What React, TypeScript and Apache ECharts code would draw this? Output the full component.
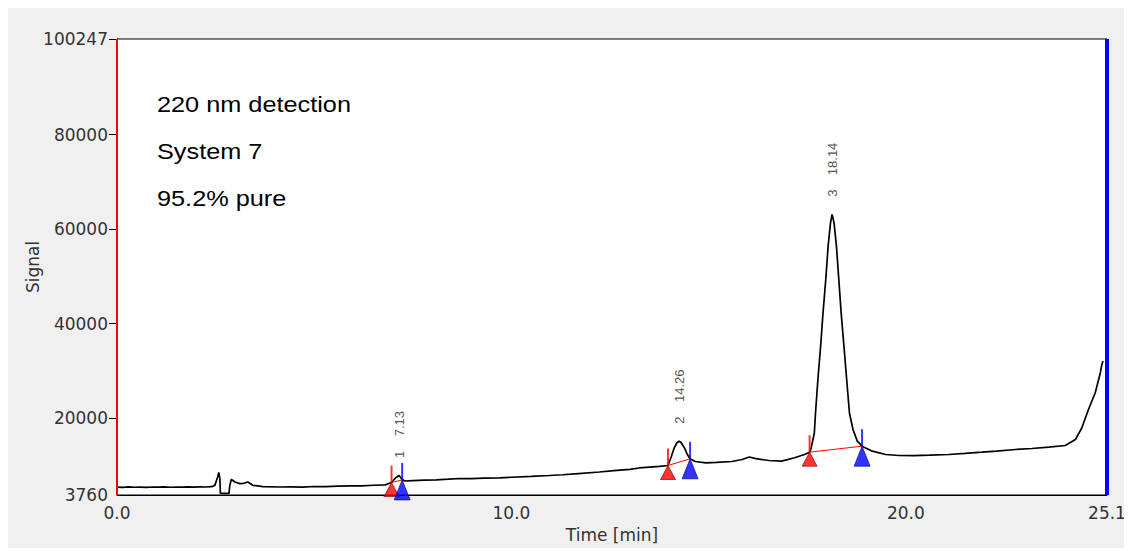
import React, { useEffect, useRef } from "react";
import * as echarts from "echarts";

// Chromatogram trace: retention time (min) and detector signal
const times = [
  0.0, 0.15, 0.3, 0.45, 0.6, 0.75, 0.9, 1.05, 1.2, 1.35, 1.5, 1.65, 1.8, 1.95, 2.1, 2.25, 2.4,
  2.48, 2.55, 2.58, 2.61, 2.62, 2.84, 2.86, 2.9, 2.99, 3.11, 3.21, 3.32, 3.44, 3.7, 4.13,
  4.4, 4.7, 5.0, 5.3, 5.6, 5.9, 6.2, 6.5, 6.8, 6.96, 7.06, 7.15, 7.22, 7.29, 7.5, 7.8,
  8.1, 8.4, 8.7, 9.0, 9.3, 9.7, 10.0, 10.5, 10.96, 11.3, 11.7, 12.23, 12.6, 13.0, 13.24,
  13.5, 13.75, 13.97, 14.05, 14.13, 14.2, 14.25, 14.3, 14.38, 14.46, 14.53, 14.66, 14.93,
  15.2, 15.59, 15.85, 16.03, 16.2, 16.53, 16.85, 17.18, 17.43, 17.56, 17.59, 17.68, 17.71,
  17.77, 17.84, 17.9, 17.97, 18.03, 18.09, 18.13, 18.18, 18.24, 18.3, 18.36, 18.43, 18.5,
  18.57, 18.66, 18.77, 18.89, 19.15, 19.49, 19.82, 20.2, 20.6, 21.09, 21.5, 21.93, 22.3,
  22.78, 23.2, 23.62, 24.04, 24.3, 24.46, 24.63, 24.8, 24.93, 24.97, 25.0,
];
const signal = [
  5420, 5380, 5460, 5400, 5440, 5390, 5450, 5410, 5470, 5400, 5450, 5420, 5480, 5430, 5490, 5450, 5520,
  5800, 7500, 8550, 7100, 4120, 4120, 5800, 7080, 6510, 6170, 6240, 6510, 5810, 5540, 5450,
  5480, 5440, 5560, 5520, 5640, 5700, 5690, 5820, 5900, 6400, 7360, 7900, 7150, 6720, 6800, 6900,
  6960, 7100, 7250, 7220, 7350, 7400, 7520, 7700, 7890, 8050, 8300, 8630, 8900, 9200, 9480,
  9650, 9800, 10000, 11800, 13800, 14870, 15150, 14870, 13820, 12330, 11420, 10850, 10540,
  10650, 10850, 11280, 11800, 11450, 11060, 10920, 11640, 12330, 12820, 13390, 16890, 21120,
  28210, 35300, 42290, 49380, 56470, 61340, 63140, 61340, 56470, 49380, 42290, 35300, 28210,
  21120, 17630, 15150, 14090, 13030, 12330, 12120, 12100, 12200, 12330, 12560, 12820, 13050,
  13390, 13600, 13880, 14240, 15510, 17940, 21860, 25350, 29590, 31390, 32100,
];

// Integration marks: peak start (red), peak end (blue), apex (label)
const peakStarts = [
  [6.96, 6400],
  [13.97, 10000],
  [17.56, 12820],
];
const peakEnds = [
  [7.23, 6950],
  [14.53, 11420],
  [18.89, 14090],
];
const peakApex = [
  [7.15, 7900],
  [14.25, 15150],
  [18.13, 63140],
];
const peakNumbers = ["1", "2", "3"];
const peakTimes = ["7.13", "14.26", "18.14"];

const yLabelValues = [3760, 20000, 40000, 60000, 80000, 100247];
const yTickValues = [20000, 40000, 60000, 80000, 100247];
const xLabelValues = [0, 10, 20, 25.1];
const annotations = ["220 nm detection", "System 7", "95.2% pure"];

const W = 1124;
const H = 540;

export default function App() {
  const ref = useRef<HTMLDivElement>(null);

  useEffect(() => {
    if (!ref.current) return;
    const chart = echarts.init(ref.current, null, { renderer: "svg" });
    const axisFont = "DejaVu Sans";

    const baselineSeries = peakStarts.map((s, i) => ({
      type: "line",
      data: [s, peakEnds[i]],
      showSymbol: false,
      symbol: "none",
      lineStyle: { color: "#ff0000", width: 1 },
      z: 3,
    }));

    const option: any = {
      animation: false,
      backgroundColor: "#f0f0f0",
      grid: {
        left: 109,
        right: 25,
        top: 31,
        bottom: 52,
        show: true,
        borderColor: "#000",
        borderWidth: 1,
        backgroundColor: "#ffffff",
      },
      xAxis: {
        type: "value",
        min: 0,
        max: 25.1,
        axisLine: { show: true, onZero: false, lineStyle: { color: "#000", width: 1 } },
        axisTick: { show: false },
        splitLine: { show: false },
        axisLabel: {
          customValues: xLabelValues,
          formatter: (v: number) => v.toFixed(1),
          fontFamily: axisFont,
          fontSize: 17,
          color: "#333",
          margin: 9,
        },
        name: "Time [min]",
        nameLocation: "middle",
        nameGap: 31,
        nameMoveOverlap: false,
        nameTextStyle: { fontFamily: axisFont, fontSize: 17, color: "#333" },
      },
      yAxis: {
        type: "value",
        min: 3760,
        max: 100247,
        axisLine: { show: true, lineStyle: { color: "#000", width: 1 } },
        axisTick: {
          show: true,
          length: 8,
          customValues: yTickValues,
          lineStyle: { color: "#000" },
        },
        splitLine: { show: false },
        axisLabel: {
          customValues: yLabelValues,
          formatter: (v: number) => String(v),
          fontFamily: axisFont,
          fontSize: 17,
          color: "#333",
          margin: 9,
        },
        name: "Signal",
        nameLocation: "middle",
        nameGap: 76,
        nameRotate: 90,
        nameMoveOverlap: false,
        nameTextStyle: { fontFamily: axisFont, fontSize: 17, color: "#333" },
      },
      graphic: annotations.map((t, i) => ({
        type: "text",
        x: 149,
        y: 97 + i * 47,
        scaleX: 1.15,
        style: {
          text: t,
          font: "22px 'Liberation Sans', Arial, sans-serif",
          fill: "#000",
          verticalAlign: "middle",
          align: "left",
        },
        z: 10,
      })),
      series: [
        {
          type: "line",
          data: times.map((t, i) => [t, signal[i]]),
          showSymbol: false,
          symbol: "none",
          lineStyle: { color: "#000", width: 1.7 },
          z: 2,
          markLine: {
            silent: true,
            symbol: "none",
            label: { show: false },
            data: [
              { xAxis: 0, lineStyle: { color: "#ff0000", width: 2, type: "solid" } },
              { xAxis: 25.1, lineStyle: { color: "#0000ff", width: 4, type: "solid" } },
            ],
          },
        },
        ...baselineSeries,
        {
          type: "scatter",
          data: peakStarts,
          symbol: "rect",
          symbolSize: [2, 17],
          symbolOffset: [0, "-50%"],
          itemStyle: { color: "#ff0000" },
          z: 4,
        },
        {
          type: "scatter",
          data: peakEnds,
          symbol: "rect",
          symbolSize: [2, 17],
          symbolOffset: [0, "-50%"],
          itemStyle: { color: "#0000ff" },
          z: 4,
        },
        {
          type: "scatter",
          data: peakStarts,
          symbol: "triangle",
          symbolSize: [15, 14],
          symbolOffset: [0, "50%"],
          itemStyle: { color: "#ff0000", borderColor: "#700000", borderWidth: 0.8 },
          z: 5,
        },
        {
          type: "scatter",
          data: peakEnds,
          symbol: "triangle",
          symbolSize: [16, 20],
          symbolOffset: [0, "50%"],
          itemStyle: { color: "#0000ff", borderColor: "#000070", borderWidth: 0.8 },
          z: 5,
        },
        {
          type: "scatter",
          data: peakApex,
          symbol: "circle",
          symbolSize: 1,
          itemStyle: { color: "rgba(0,0,0,0)" },
          z: 6,
          label: {
            show: true,
            position: "top",
            distance: 17,
            rotate: 90,
            align: "left",
            verticalAlign: "middle",
            fontFamily: "'Liberation Sans', Arial, sans-serif",
            fontSize: 13,
            color: "#222",
            formatter: (p: any) => `${peakNumbers[p.dataIndex]}    ${peakTimes[p.dataIndex]}`,
          },
        },
      ],
    };
    chart.setOption(option);
    return () => chart.dispose();
  }, []);

  return (
    <div style={{ width: W, height: H, background: "#f0f0f0" }}>
      <div ref={ref} style={{ width: W, height: H }} />
    </div>
  );
}
